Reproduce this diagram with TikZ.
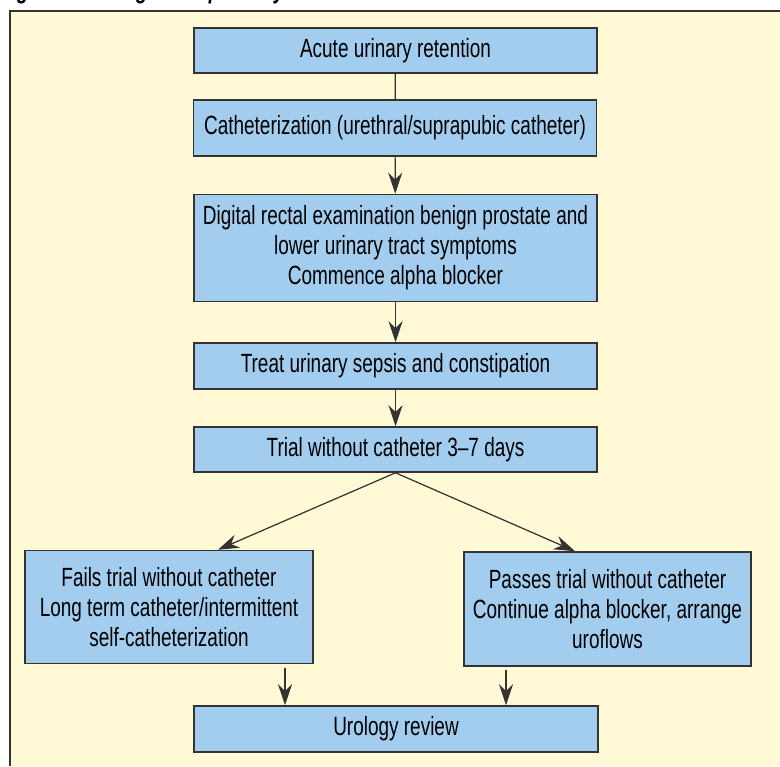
\documentclass[tikz,border=0pt]{standalone}
\usepackage{fontspec}
\setmainfont{Liberation Sans}[FakeStretch=0.72]
\usetikzlibrary{arrows.meta}

\definecolor{boxblue}{HTML}{A3CDEE}
\definecolor{panel}{HTML}{FFF9D6}
\definecolor{edge}{HTML}{333333}

\begin{document}
\begin{tikzpicture}[
    stepbox/.style={draw=edge, line width=0.9pt, fill=boxblue, align=center,
      inner sep=2pt, font=\fontsize{15}{17}\selectfont},
    arr/.style={-{Stealth[length=12pt,width=8pt]}, line width=0.7pt, draw=edge},
  ]
      \useasboundingbox (0,0) rectangle (15.6,-15.32);
      \fill[panel] (0.2,-0.22) rectangle (15.6,-15.32);
      \draw[edge, line width=1.1pt] (0.2,-15.32) -- (0.2,-0.22) -- (15.6,-0.22);
      \node[anchor=base west, inner sep=0pt, font=\fontsize{15}{17}\selectfont\bfseries\itshape]
        (title) at (0,0.04) {Figure 1: Management pathway for acute retention.};

      \node[stepbox, minimum width=8.06cm, minimum height=0.9cm] (aur) at (7.91,-1.01) {Acute urinary retention};
      \node[stepbox, minimum width=8.06cm, minimum height=1.12cm] (cath) at (7.9,-2.56) {Catheterization (urethral/suprapubic catheter)};
      \node[stepbox, minimum width=8.06cm, minimum height=2.14cm] (dre) at (7.91,-4.96)
        {Digital rectal examination benign prostate and\\lower urinary tract symptoms\\Commence alpha blocker};
      \node[stepbox, minimum width=8.06cm, minimum height=0.92cm] (sepsis) at (7.91,-7.32) {Treat urinary sepsis and constipation};
      \node[stepbox, minimum width=8.06cm, minimum height=0.9cm] (twoc) at (7.91,-8.99) {Trial without catheter 3--7 days};
      \node[stepbox, minimum width=5.76cm, minimum height=2.26cm] (fail) at (3.38,-12.14)
        {Fails trial without catheter\\Long term catheter/intermittent\\self-catheterization};
      \node[stepbox, minimum width=5.74cm, minimum height=2.28cm] (pass) at (12.15,-12.18)
        {Passes trial without catheter\\Continue alpha blocker, arrange\\uroflows};
      \node[stepbox, minimum width=8.08cm, minimum height=0.92cm] (uro) at (7.92,-14.58) {Urology review};

      \draw[edge, line width=0.7pt] (aur) -- (cath);
      \draw[arr] (cath) -- (dre);
      \draw[arr] (dre) -- (sepsis);
      \draw[arr] (sepsis) -- (twoc);
      \draw[arr] (twoc.south) -- ([xshift=0.98cm]fail.north);
      \draw[arr] (twoc.south) -- ([xshift=-0.65cm]pass.north);
      \draw[arr] ([xshift=2.32cm,yshift=-2pt]fail.south) -- ([xshift=2.32cm]fail.south |- uro.north);
      \draw[arr] ([xshift=-2.03cm,yshift=-2pt]pass.south) -- ([xshift=-2.03cm]pass.south |- uro.north);
    \end{tikzpicture}
\end{document}
